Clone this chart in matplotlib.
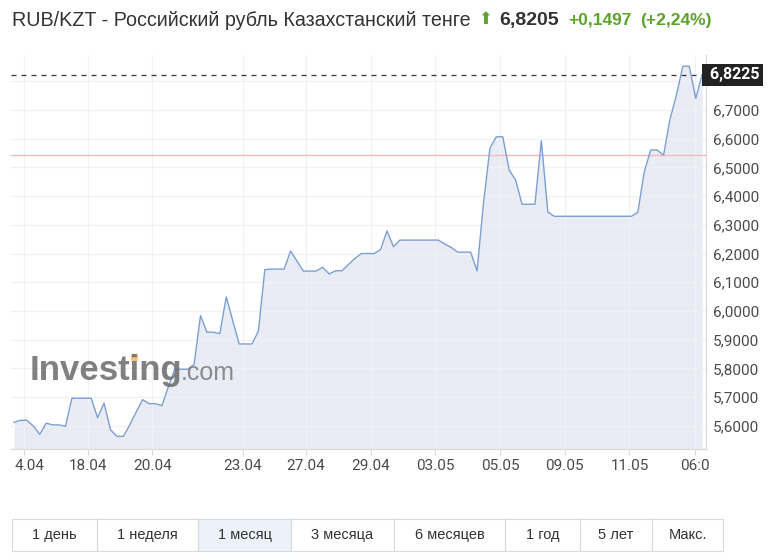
import numpy as np
import matplotlib.pyplot as plt
from matplotlib.patches import Rectangle
from matplotlib.transforms import ScaledTranslation

# Data
values = [
    5.612, 5.619, 5.619, 5.599, 5.570, 5.609, 5.603, 5.603, 5.598, 5.696,
    5.696, 5.696, 5.696, 5.628, 5.679, 5.586, 5.563, 5.563, 5.603, 5.648,
    5.691, 5.677, 5.677, 5.670, 5.736, 5.797, 5.797, 5.797, 5.814, 5.984,
    5.926, 5.926, 5.921, 6.049, 5.967, 5.885, 5.885, 5.885, 5.930, 6.144,
    6.146, 6.146, 6.146, 6.209, 6.174, 6.139, 6.139, 6.139, 6.152, 6.129,
    6.140, 6.140, 6.162, 6.183, 6.200, 6.200, 6.200, 6.214, 6.279, 6.224,
    6.247, 6.247, 6.247, 6.247, 6.247, 6.247, 6.247, 6.233, 6.221, 6.205,
    6.205, 6.205, 6.140, 6.375, 6.567, 6.607, 6.607, 6.491, 6.456, 6.372,
    6.372, 6.372, 6.593, 6.345, 6.330, 6.330, 6.330, 6.330, 6.330, 6.330,
    6.330, 6.330, 6.330, 6.330, 6.330, 6.330, 6.330, 6.344, 6.485, 6.561,
    6.561, 6.543, 6.668, 6.752, 6.853, 6.853, 6.741, 6.8225,
]
last_value = 6.8225
ref_level = 6.543

xtick_labels = ['4.04', '18.04', '20.04', '23.04', '27.04', '29.04',
                '03.05', '05.05', '09.05', '11.05', '06:0']
xtick_pos = [1.6, 11.5, 21.5, 35.6, 45.4, 55.5, 65.5, 75.6, 85.6, 95.7, 105.9]
yticks = [5.6, 5.7, 5.8, 5.9, 6.0, 6.1, 6.2, 6.3, 6.4, 6.5, 6.6, 6.7, 6.8]

title = 'RUB/KZT - Российский рубль Казахстанский тенге'
price = '6,8205'
change = '+0,1497'
change_pct = '(+2,24%)'

buttons = ['1 день', '1 неделя', '1 месяц', '3 месяца', '6 месяцев', '1 год', '5 лет', 'Макс.']
active_button = '1 месяц'

# Style
line_color = '#7b9fd3'
fill_color = '#e9ecf5'
grid_color = '#f1f1f3'
text_color = '#333333'
green = '#5ba32b'
W, H = 772, 560

def fx(px):
    return px / W

def fy(py):
    return 1 - py / H

fig = plt.figure(figsize=(W/100, H/100), dpi=100)
ax = fig.add_axes([fx(11), fy(449), 695/W, 394/H])

x = np.arange(len(values))
ymin, ymax = 5.519, 6.892
ax.set_xlim(-0.47, 107.6)
ax.set_ylim(ymin, ymax)

ax.fill_between(x, values, ymin, color=fill_color, lw=0, zorder=1)
ax.plot(x, values, color=line_color, lw=1.0, zorder=3)
ax.axhline(ref_level, color='#f5baba', lw=1.0, zorder=2.8)
ax.axhline(last_value, color='#333333', lw=0.9, dashes=(4, 4), zorder=2.9)

ax.set_axisbelow(False)
ax.grid(color=grid_color, lw=0.9, zorder=2)

for s in ['top', 'left']:
    ax.spines[s].set_visible(False)
for s in ['bottom', 'right']:
    ax.spines[s].set_color('#dcdcdc')
    ax.spines[s].set_linewidth(1.0)

# 6,8000 sits under the last-value box, so its label stays empty
ax.yaxis.tick_right()
ax.set_yticks(yticks)
ax.set_yticklabels([f'{v:.4f}'.replace('.', ',') if v < 6.75 else '' for v in yticks],
                   family='Roboto', fontsize=11, color='#4a4a4a')
ax.tick_params(axis='y', length=0, pad=5)

ax.set_xticks(xtick_pos)
ax.set_xticklabels(xtick_labels, family='Roboto', fontsize=11, color='#4a4a4a')
ax.tick_params(axis='x', length=4.5, color='#dcdcdc', pad=3)
first = ax.get_xticklabels()[0]
first.set_transform(first.get_transform() + ScaledTranslation(4/72, 0, fig.dpi_scale_trans))

# last value box
ax.text(1.0, last_value, ' ' + f'{last_value:.4f}'.replace('.', ','),
        transform=ax.get_yaxis_transform(), ha='left', va='center',
        family='Roboto', fontsize=11.5, fontweight='bold', color='white',
        bbox=dict(boxstyle='square,pad=0.22', fc='#222222', ec='none'),
        clip_on=False, zorder=10)

# watermark
fig.text(fx(30), fy(380), 'Investing', family='Liberation Sans', fontweight='bold',
         fontsize=25, color='#6a6a6a', alpha=0.85, va='baseline', ha='left')
fig.text(fx(181), fy(380), '.com', family='Liberation Sans',
         fontsize=18, color='#7a7a7a', alpha=0.85, va='baseline', ha='left')
fig.patches.append(Rectangle((fx(131), fy(361)), fx(7), 7/H, transform=fig.transFigure,
                             fc='#f1c57d', ec='none'))

# header
fig.text(fx(12), fy(20), title, family='Liberation Sans', fontsize=14.2,
         color=text_color, va='center', ha='left')
fig.text(fx(485.5), fy(19), '⬆', family='DejaVu Sans', fontsize=12,
         color=green, va='center', ha='center')
fig.text(fx(499), fy(20), price, family='Liberation Sans', fontweight='bold',
         fontsize=14, color=text_color, va='center', ha='left')
fig.text(fx(568), fy(20), change, family='Liberation Sans', fontweight='bold',
         fontsize=12.5, color=green, va='center', ha='left')
fig.text(fx(640), fy(20), change_pct, family='Liberation Sans', fontweight='bold',
         fontsize=12.5, color=green, va='center', ha='left')

# range buttons
edges = [12, 97, 198, 291, 394, 505, 580, 652, 723]
top, bot = 519, 551
for i, lab in enumerate(buttons):
    x0, x1 = edges[i], edges[i + 1]
    fc = '#edf2fa' if lab == active_button else 'white'
    fig.patches.append(Rectangle((fx(x0), fy(bot)), fx(x1 - x0), (bot - top)/H,
                                 transform=fig.transFigure, fc=fc, ec='#d9d9d9', lw=0.8))
    fig.text(fx((x0 + x1)/2), fy((top + bot)/2), lab, family='Liberation Sans',
             fontsize=10.5, color=text_color, ha='center', va='center')

plt.savefig('out.png', dpi=100)
